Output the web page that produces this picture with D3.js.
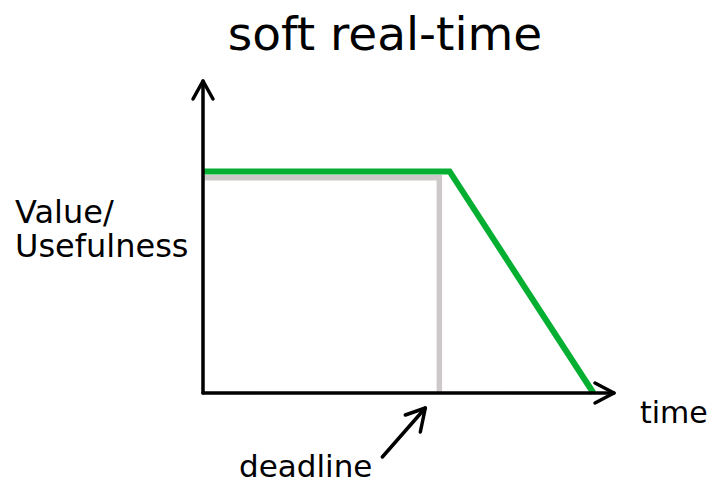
<!DOCTYPE html>
<html>
<head>
<meta charset="utf-8">
<script src="https://cdn.jsdelivr.net/npm/d3@7"></script>
<style>
  html, body { margin: 0; padding: 0; background: #fff; }
  text { font-family: "DejaVu Sans", sans-serif; fill: #000; }
</style>
</head>
<body>
<div id="chart"></div>
<script>
// chart content
var title = "soft real-time";
var yLabel = ["Value/", "Usefulness"];
var xLabel = "time";
var deadlineLabel = "deadline";

// soft real-time value curve (green)
var softTimes = [0, 6.0, 9.5];
var softValues = [7.1, 7.1, 0];

// reference step at the deadline (grey)
var stepTimes = [0, 5.75, 5.75];
var stepValues = [6.9, 6.9, 0];

var axisMax = 10;

var width = 713,
	height = 482;

var svg = d3.select('#chart')
	.append('svg')
	.attr('width', width)
	.attr('height', height);

var x = d3.scaleLinear().domain([0, axisMax]).range([203, 614]);
var y = d3.scaleLinear().domain([0, axisMax]).range([393, 81]);

var line = d3.line()
	.x(function(d) { return x(d[0]); })
	.y(function(d) { return y(d[1]); });

// grey step
svg.append('path')
	.datum(d3.zip(stepTimes, stepValues))
	.attr('d', line)
	.attr('fill', 'none')
	.attr('stroke', '#cdc9c9')
	.attr('stroke-width', 5.5)
	.attr('stroke-linejoin', 'miter');

// green value curve
svg.append('path')
	.datum(d3.zip(softTimes, softValues))
	.attr('d', line)
	.attr('fill', 'none')
	.attr('stroke', '#05af31')
	.attr('stroke-width', 6)
	.attr('stroke-linejoin', 'miter');

// axes with arrow heads
var axes = svg.append('g')
	.attr('fill', 'none')
	.attr('stroke', '#000')
	.attr('stroke-width', 3.5)
	.attr('stroke-linecap', 'round')
	.attr('stroke-linejoin', 'round');

axes.append('path')
	.attr('d', d3.line()([[x(0), y(0)], [x(0), y(axisMax)]]));
axes.append('path')
	.attr('d', d3.line()([[x(0) - 10, y(axisMax) + 18], [x(0), y(axisMax)], [x(0) + 10, y(axisMax) + 18]]));

axes.append('path')
	.attr('d', d3.line()([[x(0), y(0)], [x(axisMax), y(0)]]));
axes.append('path')
	.attr('d', d3.line()([[x(axisMax) - 19, y(0) - 10], [x(axisMax), y(0)], [x(axisMax) - 19, y(0) + 10]]));

// deadline pointer
var tip = [x(stepTimes[1]) - 14, y(0) + 15];
axes.append('path')
	.attr('d', d3.line()([[tip[0] - 43, tip[1] + 49], tip]));
axes.append('path')
	.attr('d', d3.line()([[tip[0] - 20, tip[1] + 7], tip, [tip[0] - 5, tip[1] + 24]]));

// text
svg.append('text')
	.text(title)
	.attr('x', 385)
	.attr('y', 50)
	.attr('text-anchor', 'middle')
	.attr('font-size', '47px');

svg.selectAll('.ylab')
	.data(yLabel)
	.enter()
	.append('text')
	.attr('class', 'ylab')
	.text(function(d) { return d; })
	.attr('x', 15)
	.attr('y', function(d, i) { return 223 + i * 34; })
	.attr('font-size', '32px');

svg.append('text')
	.text(xLabel)
	.attr('x', 640)
	.attr('y', 423)
	.attr('font-size', '30px');

svg.append('text')
	.text(deadlineLabel)
	.attr('x', 239)
	.attr('y', 477)
	.attr('font-size', '31px');
</script>
</body>
</html>
